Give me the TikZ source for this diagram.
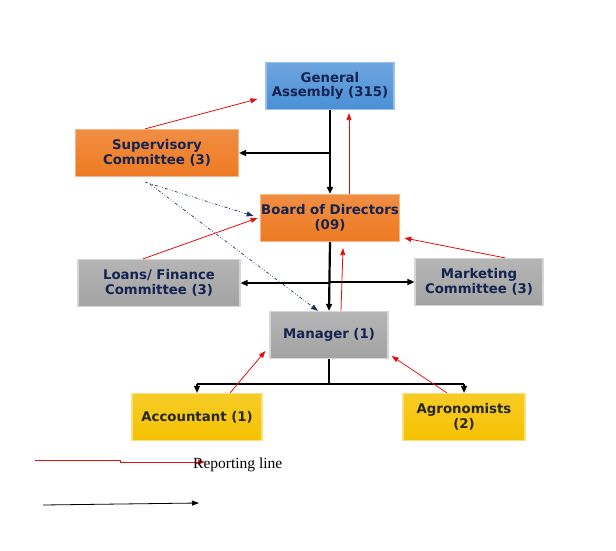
\documentclass[tikz,border=0pt]{standalone}
\usepackage{fontspec}
\setsansfont{DejaVu Sans}
\newfontfamily\legendfont{Liberation Serif}
\usetikzlibrary{arrows.meta}
\definecolor{BoxText}{HTML}{14234F}
\definecolor{AssemblyBlue}{HTML}{4A8FD6}
\definecolor{BoardOrange}{HTML}{EE7A22}
\definecolor{StaffGrey}{HTML}{A3A3A3}
\definecolor{UnitYellow}{HTML}{F5C200}
\definecolor{LinkRed}{HTML}{E01010}
\definecolor{DashNavy}{HTML}{1F3264}
\begin{document}
\begin{tikzpicture}[x=1pt,y=-1pt,
  orgbox/.style={rectangle, inner sep=1pt, align=center, text=BoxText,
    font=\sffamily\bfseries\fontsize{13.3}{14.5}\selectfont, minimum height=47pt},
  bluebox/.style={orgbox, draw=AssemblyBlue!55, line width=1.2pt, top color=AssemblyBlue!80, bottom color=AssemblyBlue},
  orangebox/.style={orgbox, draw=BoardOrange!55, line width=1.2pt, top color=BoardOrange!85, bottom color=BoardOrange},
  greybox/.style={orgbox, draw=StaffGrey!45, line width=1.2pt, top color=StaffGrey!80, bottom color=StaffGrey},
  yellowbox/.style={orgbox, draw=UnitYellow!50, line width=1.2pt, top color=UnitYellow!85, bottom color=UnitYellow, text=black!85},
  trunk/.style={line width=2.2pt},
  branch/.style={line width=1.3pt, -{Triangle[length=7pt,width=6pt]}},
  report/.style={LinkRed, line width=0.8pt, -{Triangle[length=7pt,width=5pt]}},
  oversee/.style={DashNavy, line width=0.7pt, dash dot dot, -{Triangle[length=7pt,width=5pt]}}]
\useasboundingbox (0,0) rectangle (616,551);
% boxes
\node[bluebox, minimum width=128pt] (GA) at (330,86) {General\\Assembly (315)};
\node[orangebox, minimum width=163pt] (SC) at (157,153) {Supervisory\\Committee (3)};
\node[orangebox, minimum width=137pt] (BD) at (330,218) {Board of Directors\\(09)};
\node[greybox, minimum width=162pt] (LF) at (159,283) {Loans/ Finance\\Committee (3)};
\node[greybox, minimum width=128pt] (MC) at (479,282) {Marketing\\Committee (3)};
\node[greybox, minimum width=118pt] (MG) at (329,335) {Manager (1)};
\node[yellowbox, minimum width=130pt] (AC) at (197,417) {Accountant (1)};
\node[yellowbox, minimum width=122pt] (AG) at (464,417) {Agronomists\\(2)};
% black lines
\draw[trunk, -{Triangle[length=7pt,width=6pt]}] (GA.south) -- (BD.north);
\draw[branch] (GA.south |- SC.east) -- (SC.east);
\draw[trunk, -{Triangle[length=7pt,width=6pt]}] (BD.south) -- (MG.north);
\draw[branch] (BD.south |- LF.east) -- (LF.east);
\draw[branch] (BD.south |- MC.west) -- (MC.west);
\coordinate (fork) at ([yshift=-25pt]MG.south);
\draw[trunk] (MG.south) -- (fork);
\draw[line width=1.3pt] (fork -| AC.north) -- (fork -| AG.north);
\draw[branch] (fork -| AC.north) -- (AC.north);
\draw[branch] (fork -| AG.north) -- (AG.north);
% reporting lines
\draw[report] ([xshift=-12pt]SC.north) -- ([xshift=-8pt,yshift=-13pt]GA.west);
\draw[report] ([xshift=19pt]BD.north) -- ([xshift=19pt,yshift=-3pt]GA.south);
\draw[report] ([xshift=-16pt]LF.north) -- ([xshift=-2pt]BD.west);
\draw[report] ([xshift=26pt]MC.north) -- ([xshift=4pt,yshift=-20pt]BD.east);
\draw[report] ([xshift=12pt]MG.north) -- ([xshift=13pt,yshift=-6pt]BD.south);
\draw[report] ([xshift=33pt]AC.north) -- ([xshift=-4pt,yshift=-16pt]MG.west);
\draw[report] ([xshift=-17pt]AG.north) -- ([xshift=3pt,yshift=-21pt]MG.east);
% overseeing lines
\draw[oversee] ([xshift=-12pt,yshift=-5pt]SC.south) -- ([xshift=-6pt,yshift=2pt]BD.west);
\draw[oversee] ([xshift=-7pt,yshift=-7pt]SC.south) -- ([xshift=-11pt]MG.north);
% legend
\coordinate (redA) at (35,460);
\coordinate (redB) at (205,462);
\draw[report] (redA) -- (120,460) -- (120,462) -- (redB);
\node[anchor=west, inner sep=0pt, font=\legendfont\fontsize{15.5}{17}\selectfont] (RL) at (193,465) {Reporting line};
\coordinate (blkA) at (43,505);
\coordinate (blkB) at (199,503);
\draw[line width=0.8pt, -{Triangle[length=7pt,width=5pt]}] (blkA) -- (blkB);
\end{tikzpicture}
\end{document}
